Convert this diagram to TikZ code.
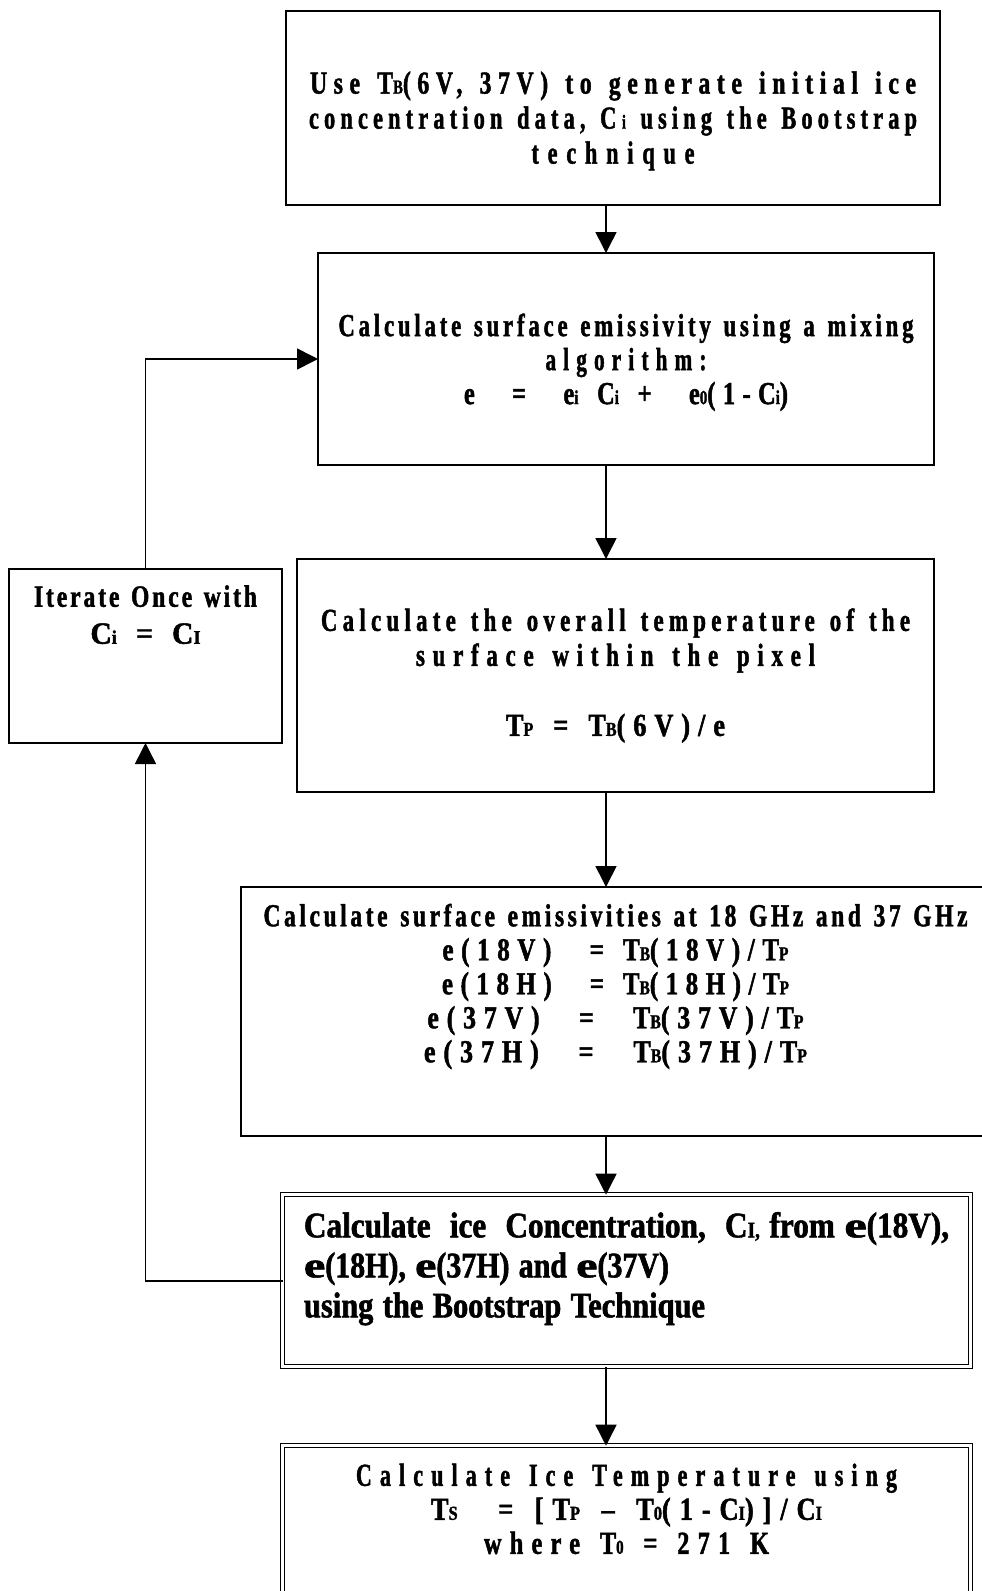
\documentclass[tikz,border=0pt]{standalone}
\usepackage{fontspec}
\setmainfont{Liberation Serif}[FakeStretch=0.65, BoldFeatures={FakeBold=1.3}]
\usepackage{graphicx}
\usetikzlibrary{positioning,arrows.meta}

% one line of text, squeezed to a given width
\newcommand\fitto[3][0]{\resizebox{#2pt}{\height}{\addfontfeature{LetterSpace=#1}%
  \spaceskip=\dimexpr 0.2em+0.015em*#1\relax #3}}
\newcommand\lsub[1]{\scalebox{0.62}{#1}}
\newcommand\padtop[1]{\rule{0pt}{#1}}
\newcommand\padbot[1]{\rule[-#1]{0pt}{0pt}}
\newcommand\embf{\scalebox{1.6}[1]{e}}

\begin{document}
\begin{tikzpicture}
      [ x=1pt, y=1pt, >={Triangle[width=21pt,length=21pt]}, line width=1.6pt,
        stepbox/.style={draw, rectangle, outer sep=0pt, inner sep=4pt, align=center,
                        font=\fontsize{32}{35}\selectfont\bfseries},
        dblbox/.style={stepbox, double, double distance=2.6pt, line width=1.4pt,
                       font=\fontsize{36}{40}\selectfont\bfseries}
      ]
      \useasboundingbox (0,0) rectangle (982,-1591);
      \coordinate (spine) at (606,0);

      \node[stepbox, minimum width=654pt, minimum height=194pt, text width=640pt]
            (init) at (613,-108)
            {\padtop{48pt}\fitto[18]{606}{Use T\lsub{B}(6V, 37V) to generate initial ice}\\
             \fitto[15]{608}{concentration data, C\,\lsub{i} using the Bootstrap}\\
             \fitto[26]{163}{technique}};
      \node[stepbox, minimum width=616pt, minimum height=212pt, text width=600pt,
            font=\fontsize{32}{34}\selectfont\bfseries]
            (mixing) [below=48pt of init, xshift=13pt]
            {\padtop{29pt}\fitto[11]{575}{Calculate surface emissivity using a mixing}\\
             \fitto[22]{161}{algorithm:}\\
             \fitto[20]{324}{e\quad=\ \ e\lsub{i} C\lsub{i} +\ \ e\lsub{0}(1-C\lsub{i})}};
      \node[stepbox, minimum width=637pt, minimum height=233pt, text width=620pt]
            (overall) [below=94pt of mixing, xshift=-10.5pt]
            {\fitto[15]{589}{Calculate the overall temperature of the}\\
             \fitto[22]{399}{surface within the pixel}\\[35pt]
             \fitto[20]{219}{T\lsub{P} = T\lsub{B}(6V)/e}};
      \node[stepbox, minimum width=273pt, minimum height=174pt, text width=260pt,
            font=\fontsize{31}{37}\selectfont\bfseries]
            (iterate) [left=15pt of overall.north west, anchor=north east, yshift=-10pt]
            {\fitto[8]{223}{Iterate Once with}\\
             \fitto[15]{110}{C\lsub{i} = C\lsub{I}}\padbot{83pt}};
      \node[stepbox, minimum width=749pt, minimum height=249pt, text width=730pt,
            font=\fontsize{32}{34}\selectfont\bfseries]
            (emiss) [below=95pt of overall]
            {\fitto[10]{704}{Calculate surface emissivities at 18 GHz and 37 GHz}\\
             \fitto[20]{346}{e(18V)\quad= T\lsub{B}(18V)/T\lsub{P}}\\
             \fitto[20]{347}{e(18H)\quad= T\lsub{B}(18H)/T\lsub{P}}\\
             \fitto[20]{376}{e(37V)\quad=\quad T\lsub{B}(37V)/T\lsub{P}}\\
             \fitto[20]{383}{e(37H)\quad=\quad T\lsub{B}(37H)/T\lsub{P}}\padbot{57pt}};
      \node[dblbox, minimum width=688pt, minimum height=172pt, text width=645pt, align=left]
            (concen) [below=58.7pt of emiss, xshift=11pt]
            {\fitto{645}{Calculate\ \ ice\ \ Concentration,\ \ C\lsub{I,} from \embf(18V),}\\
             \fitto{365}{\embf(18H), \embf(37H) and \embf(37V)}\\
             \fitto{401}{using the Bootstrap Technique}\padbot{32pt}};
      \node[dblbox, minimum width=688pt, minimum height=174pt, text width=660pt,
            font=\fontsize{32}{34}\selectfont\bfseries]
            (icetemp) [below=79pt of concen]
            {\fitto[24]{541}{Calculate Ice Temperature using}\\
             \fitto[22]{391}{T\lsub{S}\quad= [T\lsub{P} – T\lsub{0}(1-C\lsub{I})]/C\lsub{I}}\\
             \fitto[22]{285}{where T\lsub{0} = 271 K}\padbot{48pt}};

      \path[->] (init.south -| spine)    edge (mixing.north -| spine)
                (mixing.south -| spine)  edge (overall.north -| spine)
                (overall.south -| spine) edge (emiss.north -| spine)
                (emiss.south -| spine)   edge (concen.north -| spine)
                (concen.south -| spine)  edge (icetemp.north -| spine);

      % feedback loop
      \draw[->] (concen.west) -| (iterate.south);
      \draw[->] (iterate.north) |- (mixing.west);
\end{tikzpicture}
\end{document}
